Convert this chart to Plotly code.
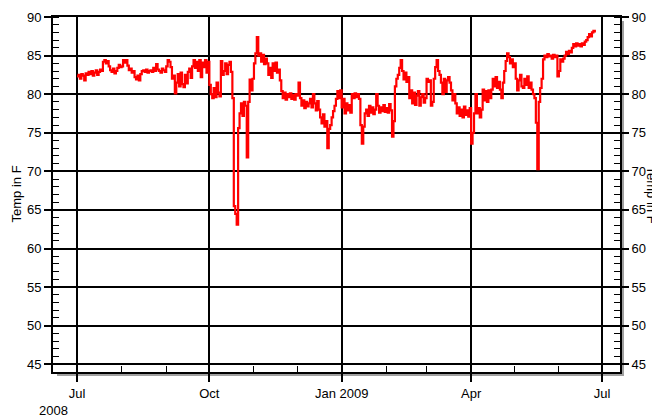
import pandas as pd
import plotly.graph_objects as go

start_date = "2008-07-01"

jul = [82.3, 82.5, 82.0, 82.6, 82.4, 81.8, 82.7, 82.5, 82.9, 82.6, 83.0, 82.4, 82.8, 83.1, 82.5, 82.9, 83.2, 83.0,
       84.2, 84.4, 84.0, 84.3, 83.6, 83.1,
       82.9, 83.3, 82.7, 83.0, 83.4, 83.8, 83.5]
aug = [83.6, 84.4, 84.1, 84.4, 83.7, 83.1, 83.3, 82.8, 83.0, 82.2, 81.9,
       82.4, 81.8, 82.6, 83.0, 83.1, 82.9, 83.2, 82.8, 83.0, 83.1, 82.9, 83.4, 83.0,
       83.9, 83.2, 83.0, 82.8, 83.3, 83.1, 82.9]
sep = [83.6, 84.4, 84.2, 83.5, 82.0, 82.4, 80.1, 81.5, 82.6,
       81.0, 82.8, 81.3, 80.9, 82.5, 81.4, 82.9, 83.3, 82.1, 83.6,
       84.4, 83.4, 84.2, 83.0, 84.4, 82.2, 84.1, 83.5, 84.4, 82.8, 84.2]
oct_ = [81.2, 80.0, 79.5, 80.8, 79.6, 81.5, 80.2, 79.7, 84.3, 82.5,
        83.0, 84.0, 82.6, 83.8, 84.2, 82.9, 79.5, 65.5, 64.5, 63.1, 75.6,
        77.5, 78.8, 77.2, 79.0, 78.5, 71.8, 79.0, 81.9, 80.5, 82.0]
nov = [84.0, 85.3, 87.4, 85.0, 85.3, 84.2, 85.1, 83.9, 84.6, 84.0,
       82.5, 83.4, 82.1, 84.0, 83.0, 84.1, 82.8, 83.2,
       81.8, 80.4, 79.5, 80.2, 79.3, 80.0, 79.6, 80.1, 79.4, 79.9, 79.3, 80.0]
dec = [79.8, 81.5, 79.5, 78.5, 79.2, 78.2, 79.0, 78.4, 78.8, 79.4, 78.3, 80.0,
       78.8, 77.9, 79.1, 78.0, 77.0, 76.2, 77.4, 75.8, 76.5, 73.0, 75.5,
       76.0, 77.0, 77.8, 78.5, 79.4, 80.4, 79.5, 80.5]
jan = [78.3, 79.4, 77.5, 78.8, 77.9, 78.6, 77.6, 80.0, 79.5, 80.1, 79.6, 80.0, 79.4,
       76.0, 73.6, 75.8, 77.5, 78.0, 77.2, 78.5, 77.6, 78.3, 77.4, 78.0, 80.0,
       78.5, 77.6, 78.3, 77.8, 78.6, 77.7]
feb = [78.2, 77.6, 78.7, 77.9, 74.5, 76.5, 81.0, 82.0, 82.5, 83.4, 84.4, 83.0,
       81.9, 82.8, 81.6, 82.2, 79.5, 80.5, 78.8, 80.2, 78.6, 79.8, 80.4, 78.5, 79.6, 80.0, 78.9, 79.5]
mar = [82.0, 81.6, 81.8, 78.5, 79.0, 82.0, 83.5, 84.4, 83.0, 82.5,
       81.5, 80.0, 82.0, 80.3, 81.8, 82.2, 81.5, 80.5, 79.2, 80.0, 78.8,
       77.5, 78.3, 77.2, 78.0, 77.0, 78.4, 77.3, 77.9, 77.1, 78.2]
apr = [73.6, 75.0, 77.5, 80.0, 77.5, 78.2, 77.0, 78.0,
       80.6, 79.2, 80.4, 79.0, 80.5, 79.5, 80.6, 82.0, 81.0, 82.2, 80.8, 81.6, 80.6, 79.5,
       81.5, 83.0, 84.3, 85.3, 84.8, 84.0, 84.5, 83.5]
may = [84.0, 82.0, 80.5, 81.8, 82.5, 81.0, 80.8, 82.0, 81.2, 82.3, 80.8, 81.5, 80.6,
       80.0, 79.5, 76.3, 70.3, 79.0, 80.8, 82.0,
       84.5, 85.0, 84.8, 85.2, 84.9, 85.0, 84.6, 85.1, 84.8, 85.0, 82.3]
jun = [83.0, 84.5, 84.2, 84.6, 85.0, 85.5, 85.2, 85.6, 85.4, 86.0,
       86.5, 86.2, 86.6, 86.3, 86.5, 86.2, 86.6, 86.4, 86.8,
       87.0, 87.4, 87.8, 87.5, 88.0, 88.2, 88.0]

temps = jul + aug + sep + oct_ + nov + dec + jan + feb + mar + apr + may + jun
dates = pd.date_range(start_date, periods=len(temps), freq="D")

tick_vals = ["2008-07-01", "2008-10-01", "2009-01-01", "2009-04-01", "2009-07-01"]
tick_text = ["Jul", "Oct", "Jan 2009", "Apr", "Jul"]
y_range = [44, 90]
x_range = ["2008-06-14 07:00", "2009-07-13 12:00"]

FONT = "Liberation Sans, Arial, sans-serif"
FS = 13

fig = go.Figure()
fig.add_trace(go.Scatter(x=dates, y=temps, mode="lines", line=dict(color="#ff0000", width=2.2, shape="hv"),
                         showlegend=False))
fig.add_trace(go.Scatter(x=dates, y=temps, mode="lines", line=dict(color="rgba(0,0,0,0)", width=0),
                         yaxis="y2", showlegend=False, hoverinfo="skip"))

# page body has an 8px margin; figure is sized to fit the 660x418 window
OFF = 8
W, H = 660 - OFF, 418 - OFF
PL, PT, PR, PB = 53, 17, 620, 372  # plot area in window pixels
L, T = PL - OFF, PT - OFF
pw, ph = PR - PL, PB - PT
R, B = W - L - pw, H - T - ph

sx = 4 / pw
sy = 4 / ph
fig.add_shape(type="rect", xref="paper", yref="paper", x0=1, x1=1 + sx, y0=-sy, y1=1 - sy,
              fillcolor="#a0a0a0", line=dict(width=0), layer="below")
fig.add_shape(type="rect", xref="paper", yref="paper", x0=sx, x1=1 + sx, y0=-sy, y1=0,
              fillcolor="#a0a0a0", line=dict(width=0), layer="below")

yaxis_common = dict(range=y_range, dtick=5, tick0=45, ticks="outside", ticklen=7, tickwidth=1.5,
                    tickcolor="black", showline=True, linecolor="black", linewidth=2,
                    minor=dict(dtick=1, tick0=45, ticks="inside", ticklen=6, tickcolor="black", tickwidth=1),
                    tickfont=dict(family=FONT, size=FS, color="black"), zeroline=False)

fig.update_layout(
    width=W, height=H, margin=dict(l=L, r=R, t=T, b=B, autoexpand=False),
    paper_bgcolor="white", plot_bgcolor="white",
    xaxis=dict(type="date", range=x_range, tickmode="array", tickvals=tick_vals, ticktext=tick_text,
               ticks="outside", ticklen=8, tickwidth=1.5, tickcolor="black",
               showgrid=True, gridcolor="black", gridwidth=1.5,
               showline=True, linecolor="black", linewidth=2, mirror=True,
               minor=dict(tickmode="linear", dtick="M1", tick0="2008-07-01", ticks="inside", ticklen=6,
                          tickcolor="black", tickwidth=1, showgrid=False),
               tickfont=dict(family=FONT, size=FS, color="black"), zeroline=False),
    yaxis=dict(showgrid=True, gridcolor="black", gridwidth=1.5, side="left", **yaxis_common),
    yaxis2=dict(overlaying="y", side="right", anchor="x", showgrid=False, **yaxis_common),
    annotations=[
        dict(text="Temp in F", xref="paper", yref="paper", x=(16 - PL) / pw, y=0.5, textangle=-90,
             showarrow=False, font=dict(family=FONT, size=FS, color="black"), xanchor="center", yanchor="middle"),
        dict(text="Temp in F", xref="paper", yref="paper", x=(651 - PL) / pw, y=0.5, textangle=90,
             showarrow=False, font=dict(family=FONT, size=FS, color="black"), xanchor="center", yanchor="middle"),
        dict(text="2008", xref="paper", yref="paper", x=0, y=(PB - 410) / ph,
             showarrow=False, font=dict(family=FONT, size=FS, color="black"), xanchor="center", yanchor="middle"),
    ],
)

fig.write_html("out.html")
